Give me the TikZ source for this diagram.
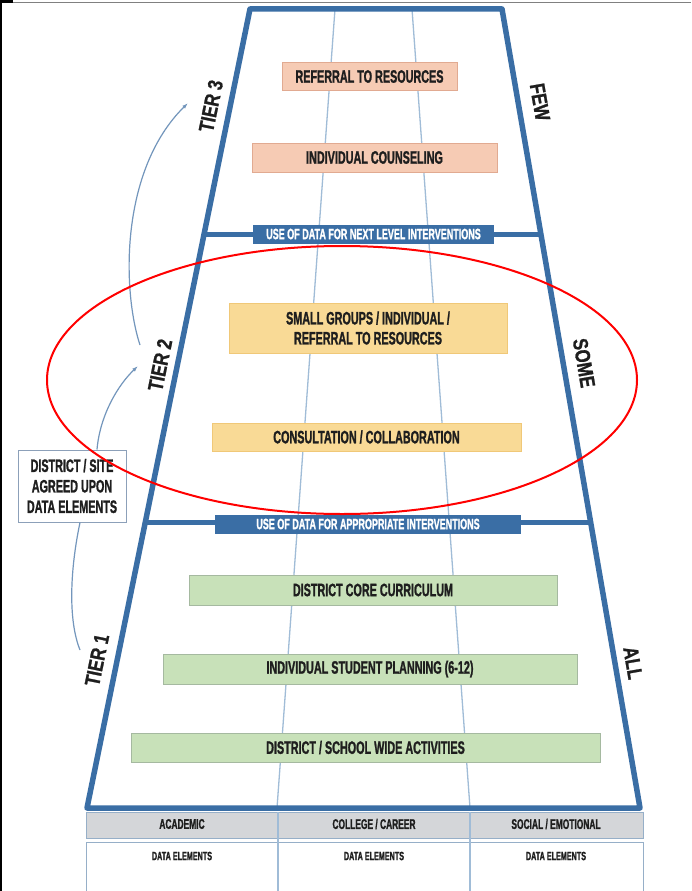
\documentclass[tikz,border=0pt]{standalone}
\usepackage{fontspec}
\usepackage{tikz}
\usetikzlibrary{arrows.meta,calc}
\newfontfamily\narrowfont[FakeStretch=0.6,FakeBold=1.2]{Liberation Sans}
\newfontfamily\tierfont[FakeStretch=0.8,FakeBold=1]{Liberation Sans}
\definecolor{trapblue}{RGB}{58,110,165}
\definecolor{laneblue}{RGB}{160,188,215}
\definecolor{linkblue}{RGB}{115,150,188}
\definecolor{ink}{RGB}{30,30,30}
\definecolor{salmonfill}{RGB}{246,203,180}
\definecolor{salmonline}{RGB}{225,170,145}
\definecolor{orangefill}{RGB}{249,218,150}
\definecolor{orangeline}{RGB}{240,200,120}
\definecolor{greenfill}{RGB}{200,225,185}
\definecolor{greenline}{RGB}{165,185,160}
\definecolor{headgray}{RGB}{212,214,217}
\definecolor{cellline}{RGB}{150,175,200}
\definecolor{boxline}{RGB}{140,160,185}

\begin{document}
\begin{tikzpicture}[x=1pt,y=-1pt,
		frame/.style={draw=trapblue,line width=5.5pt,line join=round},
		lane/.style={draw=laneblue,line width=1.3pt},
		box/.style={inner sep=0pt,line width=0.8pt,text=ink,align=center,
			font=\narrowfont\bfseries\fontsize{18}{20}\selectfont},
		fewbox/.style={box,fill=salmonfill,draw=salmonline},
		somebox/.style={box,fill=orangefill,draw=orangeline},
		allbox/.style={box,fill=greenfill,draw=greenline},
		banner/.style={fill=trapblue,inner sep=0pt,minimum height=19pt,text=white,
			font=\narrowfont\bfseries\fontsize{15}{17}\selectfont},
		edgelabel/.style={inner sep=0pt,text=ink,font=\tierfont\bfseries\fontsize{21}{23}\selectfont},
		cell/.style={inner sep=0pt,text=ink,font=\narrowfont\bfseries\fontsize{14}{16}\selectfont},
		datacell/.style={inner sep=0pt,text=ink,font=\narrowfont\bfseries\fontsize{12}{14}\selectfont},
		link/.style={draw=linkblue,line width=1.2pt}]
	\useasboundingbox (0,0) rectangle (691,891);
	\fill[white] (0,0) rectangle (691,891);
	\draw[black,line width=2pt] (1,0) -- (1,891);
	\fill[black] (0,0) rectangle (13,3.5);
	\draw[gray,line width=1.2pt] (13,2.5) -- (691,2.5);
	
	\coordinate (tl) at (250,9);
	\coordinate (tr) at (502,9);
	\coordinate (bl) at (87,808);
	\coordinate (br) at (640,808);
	\draw[lane] (335,9) -- (277,808);
	\draw[lane] (412,9) -- (470,808);
	\draw[trapblue,line width=5pt] ($(tl)!0.2816!(bl)$) -- ($(tr)!0.2816!(br)$);
	\draw[trapblue,line width=5pt] ($(tl)!0.6433!(bl)$) -- ($(tr)!0.6433!(br)$);
	\draw[frame] (bl) -- (tl) -- (tr) -- (br) -- cycle;
	
	\node[banner,minimum width=241pt] (nextlevel) at (373.5,234) {USE OF DATA FOR NEXT LEVEL INTERVENTIONS};
	\node[banner,minimum width=306pt] (appropriate) at (368,524) {USE OF DATA FOR APPROPRIATE INTERVENTIONS};
	
	\node[fewbox,minimum width=175pt,minimum height=28pt] (referral) at (369.5,76.5) {REFERRAL TO RESOURCES};
	\node[fewbox,minimum width=245pt,minimum height=29pt] (counseling) at (374.5,157.5) {INDIVIDUAL COUNSELING};
	\node[somebox,minimum width=278pt,minimum height=50pt] (smallgroups) at (368,328) {SMALL GROUPS / INDIVIDUAL /\\REFERRAL TO RESOURCES};
	\node[somebox,minimum width=309pt,minimum height=28pt] (consultation) at (366.5,437) {CONSULTATION / COLLABORATION};
	\node[allbox,minimum width=368pt,minimum height=30pt] (core) at (373,590) {DISTRICT CORE CURRICULUM};
	\node[allbox,minimum width=414pt,minimum height=30pt] (planning) at (370,669) {INDIVIDUAL STUDENT PLANNING (6-12)};
	\node[allbox,minimum width=469pt,minimum height=29pt] (schoolwide) at (365.5,747.5) {DISTRICT / SCHOOL WIDE ACTIVITIES};
	
	\draw[draw=cellline,fill=headgray,line width=1pt] (86,812) rectangle (643,838);
	\draw[draw=cellline,line width=1pt] (86,891) -- (86,842) -- (643,842) -- (643,891);
	\foreach \x in {278,470}
		\draw[lane] (\x,812) -- (\x,891);
	\node[cell] (academic) at (182,824) {ACADEMIC};
	\node[cell] (career) at (374,824) {COLLEGE / CAREER};
	\node[cell] (social) at (556,824) {SOCIAL / EMOTIONAL};
	\foreach \x/\n in {182/1,374/2,556/3}
		\node[datacell] (data\n) at (\x,856) {DATA ELEMENTS};
	
	\node[edgelabel,rotate=78.5] (tier3) at (211,106) {TIER 3};
	\node[edgelabel,rotate=78.5] (tier2) at (160,365) {TIER 2};
	\node[edgelabel,rotate=78.5] (tier1) at (97,660) {TIER 1};
	\node[edgelabel,rotate=-80.2] (few) at (540,102) {FEW};
	\node[edgelabel,rotate=-80.2] (some) at (584,363) {SOME};
	\node[edgelabel,rotate=-80.2] (all) at (633,663) {ALL};
	
	\node[draw=boxline,line width=1pt,fill=white,text=ink,align=center,inner sep=0pt,
		minimum width=108pt,minimum height=72pt,
		font=\narrowfont\bfseries\fontsize{18}{20.5}\selectfont] (agreed) at (72,486) {DISTRICT / SITE\\AGREED UPON\\DATA ELEMENTS};
	
	\coordinate (tier1tip) at (80,650);
	\coordinate (tier2tip) at (138,366);
	\coordinate (tier2top) at (140,345);
	\coordinate (tier3tip) at (188,103);
	\draw[link] ([xshift=8pt]agreed.south) .. controls (70,570) and (68,620) .. (tier1tip);
	\draw[link,-{Latex[length=6pt,width=4pt]}] ([xshift=25pt]agreed.north) .. controls (100,415) and (118,385) .. (tier2tip);
	\draw[link,-{Latex[length=6pt,width=4pt]}] (tier2top) .. controls (122,290) and (120,170) .. (tier3tip);
	
	\draw[red,line width=2pt] (342,380) ellipse [x radius=295,y radius=134];
\end{tikzpicture}
\end{document}
